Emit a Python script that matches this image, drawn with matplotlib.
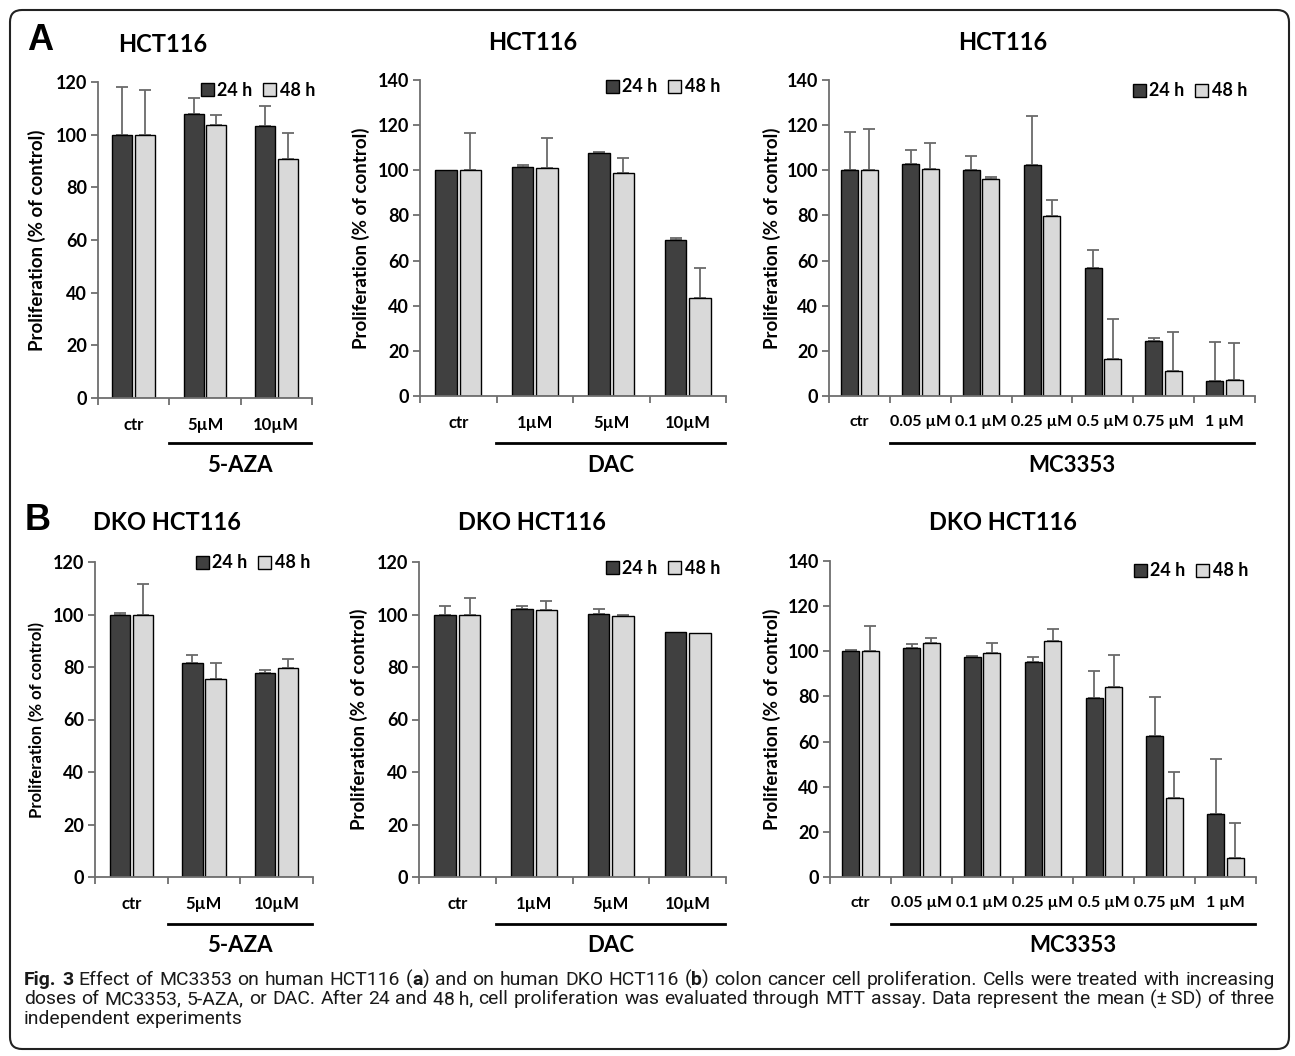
import matplotlib
matplotlib.use('Agg')
import matplotlib.pyplot as plt
from matplotlib.patches import Patch, FancyBboxPatch
from matplotlib.lines import Line2D
from matplotlib.transforms import IdentityTransform
import numpy as np

W, H = 1295, 1056
DPI = 100

# ---------------- data ----------------
aza_cats = ['ctr', '5µM', '10µM']
dac_cats = ['ctr', '1µM', '5µM', '10µM']
mc_cats = ['ctr', '0.05 µM', '0.1 µM', '0.25 µM', '0.5 µM', '0.75 µM', '1 µM']

a_aza_24 = [100, 108, 103.4]
a_aza_24_sd = [18, 6, 7.6]
a_aza_48 = [100, 103.6, 90.7]
a_aza_48_sd = [17, 3.8, 9.8]

a_dac_24 = [100, 101.6, 107.5, 69.3]
a_dac_24_sd = [0, 0.6, 0.6, 0.6]
a_dac_48 = [100, 101.2, 99, 43.3]
a_dac_48_sd = [16.7, 13, 6.4, 13.6]

a_mc_24 = [100, 102.6, 100.3, 102.2, 56.7, 24.2, 6.5]
a_mc_24_sd = [16.8, 6.5, 6.0, 21.7, 8.0, 1.3, 17.6]
a_mc_48 = [100, 100.7, 96.3, 79.8, 16.4, 11.2, 7.2]
a_mc_48_sd = [18.1, 11.4, 0.7, 6.9, 17.6, 17.3, 16.4]

b_aza_24 = [100, 81.4, 77.6]
b_aza_24_sd = [0.6, 3.2, 1.1]
b_aza_48 = [100, 75.3, 79.5]
b_aza_48_sd = [11.6, 6.4, 3.4]

b_dac_24 = [100, 102.2, 100.1, 93.2]
b_dac_24_sd = [3.4, 1.2, 1.9, 0]
b_dac_48 = [100, 101.6, 99.3, 93.0]
b_dac_48_sd = [6.3, 3.5, 0.4, 0]

b_mc_24 = [100, 101.4, 97.3, 95.1, 79.5, 62.5, 27.9]
b_mc_24_sd = [0.4, 1.8, 0.6, 2.2, 11.9, 17.3, 24.4]
b_mc_48 = [100, 103.5, 99.1, 104.5, 84.3, 34.9, 8.3]
b_mc_48_sd = [11.2, 2.4, 4.4, 5.3, 14.2, 11.4, 15.5]

series_labels = ['24 h', '48 h']
ylabel_text = 'Proliferation (% of control)'

# ---------------- style ----------------
DARK = '#404040'
LIGHT = '#d9d9d9'
ERR = '#6a6a6a'
SPINE = '#6e6e6e'
FONT = 'Lato'
CAP_FONT = 'Roboto'
plt.rcParams['font.family'] = [FONT, 'DejaVu Sans']

fig = plt.figure(figsize=(W / DPI, H / DPI), dpi=DPI)


def frac_rect(x0, y0, x1, y1):
    return [x0 / W, 1 - y1 / H, (x1 - x0) / W, (y1 - y0) / H]


def fx(x):
    return x / W


def fy(y):
    return 1 - y / H


panels = [
    dict(rect=(98, 82, 312, 398), cats=aza_cats, d=(a_aza_24, a_aza_24_sd, a_aza_48, a_aza_48_sd),
         ymax=120, title='HCT116', tpos=(163, 45), leg=(315, 90), group='5-AZA', gline=443, gtext=466,
         ylx=37, ylsize=13.5, xls=12),
    dict(rect=(420, 80, 726, 396), cats=dac_cats, d=(a_dac_24, a_dac_24_sd, a_dac_48, a_dac_48_sd),
         ymax=140, title='HCT116', tpos=(533, 43), leg=(720, 87), group='DAC', gline=443, gtext=466,
         ylx=361, ylsize=13.5, xls=12),
    dict(rect=(829, 80, 1255, 396), cats=mc_cats, d=(a_mc_24, a_mc_24_sd, a_mc_48, a_mc_48_sd),
         ymax=140, title='HCT116', tpos=(1003, 43), leg=(1247, 91), group='MC3353', gline=443, gtext=466,
         ylx=772, ylsize=13.5, xls=11.5),
    dict(rect=(95, 562, 313, 877), cats=aza_cats, d=(b_aza_24, b_aza_24_sd, b_aza_48, b_aza_48_sd),
         ymax=120, title='DKO HCT116', tpos=(167, 523), leg=(310, 563), group='5-AZA', gline=924, gtext=946,
         ylx=37, ylsize=12, xls=12),
    dict(rect=(419, 562, 726, 877), cats=dac_cats, d=(b_dac_24, b_dac_24_sd, b_dac_48, b_dac_48_sd),
         ymax=120, title='DKO HCT116', tpos=(532, 523), leg=(720, 568), group='DAC', gline=924, gtext=946,
         ylx=359, ylsize=13.5, xls=12),
    dict(rect=(830, 561, 1256, 877), cats=mc_cats, d=(b_mc_24, b_mc_24_sd, b_mc_48, b_mc_48_sd),
         ymax=140, title='DKO HCT116', tpos=(1003, 523), leg=(1248, 571), group='MC3353', gline=924, gtext=946,
         ylx=772, ylsize=13.5, xls=11.5),
]

for p in panels:
    x0, y0, x1, y1 = p['rect']
    ax = fig.add_axes(frac_rect(x0, y0, x1, y1))
    cats = p['cats']
    v24, s24, v48, s48 = p['d']
    n = len(cats)
    x = np.arange(n)
    bw, off = 0.28, 0.16
    ax.bar(x - off, v24, bw, color=DARK, edgecolor='black', linewidth=1.0, zorder=2)
    ax.bar(x + off, v48, bw, color=LIGHT, edgecolor='black', linewidth=1.0, zorder=2)
    for xs, v, s in ((x - off, v24, s24), (x + off, v48, s48)):
        for xi, vi, si in zip(xs, v, s):
            if si > 0:
                ax.errorbar([xi], [vi], yerr=[[0], [si]], fmt='none', ecolor=ERR,
                            elinewidth=1.3, capsize=4, capthick=1.3, zorder=1)
    ax.set_xlim(-0.5, n - 0.5)
    ax.set_ylim(0, p['ymax'])
    ax.set_yticks(np.arange(0, p['ymax'] + 1, 20))
    ax.set_xticks(np.arange(n + 1) - 0.5)
    ax.set_xticklabels([])
    ax.set_xticks(x, minor=True)
    ax.set_xticklabels(cats, minor=True, fontsize=p['xls'], fontweight='bold')
    ax.tick_params(axis='x', which='minor', length=0, pad=14)
    ax.tick_params(axis='x', which='major', length=5, width=1.3, direction='out', color=SPINE)
    ax.tick_params(axis='y', length=5, width=1.3, direction='out', color=SPINE, pad=3)
    for lab in ax.get_yticklabels():
        lab.set_fontsize(13)
        lab.set_fontweight('bold')
    for s in ['top', 'right']:
        ax.spines[s].set_visible(False)
    for s in ['left', 'bottom']:
        ax.spines[s].set_color(SPINE)
        ax.spines[s].set_linewidth(1.3)
    ax.set_facecolor('none')

    # legend
    handles = [Patch(facecolor=DARK, edgecolor='black', linewidth=1.0),
               Patch(facecolor=LIGHT, edgecolor='black', linewidth=1.0)]
    ax.legend(handles, series_labels, ncol=2, loc='center right',
              bbox_to_anchor=(fx(p['leg'][0]), fy(p['leg'][1])), bbox_transform=fig.transFigure,
              frameon=False, handlelength=0.7, handleheight=0.7, handletextpad=0.2,
              columnspacing=0.6, borderpad=0, borderaxespad=0,
              prop=dict(family=FONT, weight='bold', size=13))

    # y label
    fig.text(fx(p['ylx']), fy((y0 + y1) / 2), ylabel_text, rotation=90, ha='center', va='center',
             fontsize=p['ylsize'], fontweight='bold', family=FONT)
    # title
    fig.text(fx(p['tpos'][0]), fy(p['tpos'][1]), p['title'], ha='center', va='center',
             fontsize=17, fontweight='bold', family=FONT)
    # group line and label
    cw = (x1 - x0) / n
    lx0 = x0 + cw * 1.0
    lx1 = x1 - 1
    fig.add_artist(Line2D([fx(lx0), fx(lx1)], [fy(p['gline']), fy(p['gline'])], color='black', lw=2.0))
    fig.text(fx((lx0 + lx1) / 2), fy(p['gtext']), p['group'], ha='center', va='center',
             fontsize=16, fontweight='bold', family=FONT)

# panel letters
fig.text(fx(40), fy(41), 'A', ha='center', va='center', fontsize=26, fontweight='bold', family='Liberation Sans')
fig.text(fx(38), fy(520), 'B', ha='center', va='center', fontsize=26, fontweight='bold', family='Liberation Sans')

# border
border = FancyBboxPatch((10, 1056 - 1049), 1279, 1039, boxstyle='round,pad=0,rounding_size=12',
                        transform=IdentityTransform(), fill=False, edgecolor='#222222', linewidth=1.5)
fig.add_artist(border)

# caption (justified)
caption_lines = [
    ([[('Fig.', True)], [('3', True)], [('Effect', False)], [('of', False)], [('MC3353', False)], [('on', False)],
      [('human', False)], [('HCT116', False)], [('(', False), ('a', True), (')', False)], [('and', False)],
      [('on', False)], [('human', False)], [('DKO', False)], [('HCT116', False)],
      [('(', False), ('b', True), (')', False)], [('colon', False)], [('cancer', False)], [('cell', False)],
      [('proliferation.', False)], [('Cells', False)], [('were', False)], [('treated', False)], [('with', False)],
      [('increasing', False)]], True),
    ([[('doses', False)], [('of', False)], [('MC3353,', False)], [('5-AZA,', False)], [('or', False)],
      [('DAC.', False)], [('After', False)], [('24', False)], [('and', False)], [('48\u2009h,', False)],
      [('cell', False)], [('proliferation', False)], [('was', False)], [('evaluated', False)], [('through', False)],
      [('MTT', False)], [('assay.', False)], [('Data', False)], [('represent', False)], [('the', False)],
      [('mean', False)], [('(±\u2009SD)', False)], [('of', False)], [('three', False)]], True),
    ([[('independent', False)], [('experiments', False)]], False),
]
cap_base = [985, 1004.5, 1024]
CAP_X0, CAP_X1 = 24, 1275
cap_fam = [CAP_FONT, 'DejaVu Sans']

fig.canvas.draw()
r = fig.canvas.get_renderer()


def piece_width(t, b, size):
    tx = fig.text(0, 0, t, fontsize=size, fontweight='bold' if b else 'normal', family=cap_fam)
    w = tx.get_window_extent(renderer=r).width
    tx.remove()
    return w


def natural_width(words, size):
    sw = piece_width('a a', False, size) - 2 * piece_width('a', False, size)
    tot = sum(piece_width(t, b, size) for w in words for t, b in w)
    return tot + sw * (len(words) - 1)


# choose the caption size so that the first line fits the box width naturally
nw10 = natural_width(caption_lines[0][0], 10)
CAP_SIZE = 10 * (CAP_X1 - CAP_X0) / nw10 * 0.99

space_w = piece_width('a a', False, CAP_SIZE) - 2 * piece_width('a', False, CAP_SIZE)
for (words, justify), yy in zip(caption_lines, cap_base):
    wlist = [[(t, b, piece_width(t, b, CAP_SIZE)) for t, b in w] for w in words]
    wwidths = [sum(pw for _, _, pw in w) for w in wlist]
    if justify:
        gap = (CAP_X1 - CAP_X0 - sum(wwidths)) / (len(wlist) - 1)
    else:
        gap = space_w
    xcur = CAP_X0
    for w, ww in zip(wlist, wwidths):
        xp = xcur
        for t, b, pw in w:
            fig.text(fx(xp), fy(yy), t, ha='left', va='baseline', fontsize=CAP_SIZE,
                     fontweight='bold' if b else 'normal', family=cap_fam, color='#1a1a1a')
            xp += pw
        xcur += ww + gap

fig.savefig('out.png', dpi=DPI)
